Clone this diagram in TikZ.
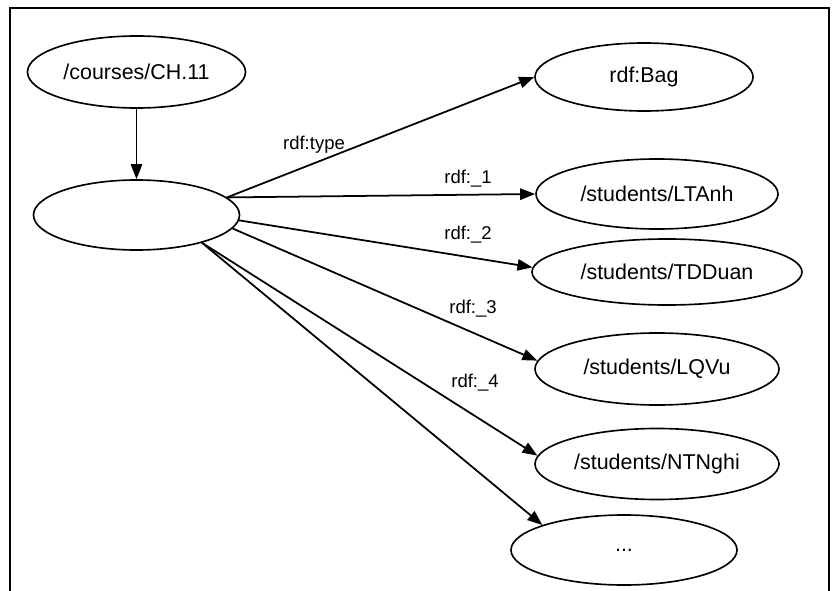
\documentclass[tikz,border=0pt]{standalone}
\usepackage{fontspec}
\setmainfont{Liberation Sans}
\usetikzlibrary{shapes.geometric,arrows.meta}
\begin{document}
\begin{tikzpicture}[x=0.03cm,y=-0.03cm,
  res/.style={draw, ellipse, line width=1.4pt, inner sep=0pt,
    font=\fontsize{18.3}{22}\selectfont},
  link/.style={line width=1.5pt, -{Triangle[length=0.45cm,width=0.34cm]}},
  lbl/.style={font=\fontsize{15.8}{19}\selectfont, anchor=base, inner sep=0pt}]
\useasboundingbox (0,0) rectangle (833,591);
% frame, open at the bottom
\draw[line width=1.5pt] (10,600) -- (10,8) -- (829,8) -- (829,600);

% resources
\node[res, minimum width=6.54cm, minimum height=2.16cm] (courses) at (136.5,72) {/courses/CH.11};
\node[res, minimum width=6.18cm, minimum height=2.1cm] (blank) at (136.5,215) {};
\node[res, minimum width=6.54cm, minimum height=2.04cm] (bag) at (644,77) {rdf:Bag};
\node[res, minimum width=7.26cm, minimum height=2.1cm] (ltanh) at (657,194) {/students/LTAnh};
\node[res, minimum width=8.1cm, minimum height=1.98cm] (tdduan) at (667,272) {/students/TDDuan};
\node[res, minimum width=7.32cm, minimum height=2.16cm] (lqvu) at (657,369) {/students/LQVu};
\node[res, minimum width=7.32cm, minimum height=2.13cm] (ntnghi) at (657,464) {/students/NTNghi};
\node[res, minimum width=6.78cm, minimum height=2.1cm] (dots) at (624,550) {...};

% properties
\draw[link] (courses) -- (blank);
\draw[link] (blank.11) -- (bag.west);
\draw[link] (blank.11) -- (ltanh.west);
\draw[link] (blank.-3) -- (tdduan.178);
\draw[link] (blank.-8) -- (lqvu.176);
\draw[link] (blank.-23) -- (ntnghi.176);
\draw[link] (blank.-23) -- (dots.163);

% property labels
\node[lbl] (ltype) at (314,149) {rdf:type};
\node[lbl] (l1) at (468,183) {rdf:\_1};
\node[lbl] (l2) at (468,239) {rdf:\_2};
\node[lbl] (l3) at (473,313) {rdf:\_3};
\node[lbl] (l4) at (475,387) {rdf:\_4};
\end{tikzpicture}
\end{document}
